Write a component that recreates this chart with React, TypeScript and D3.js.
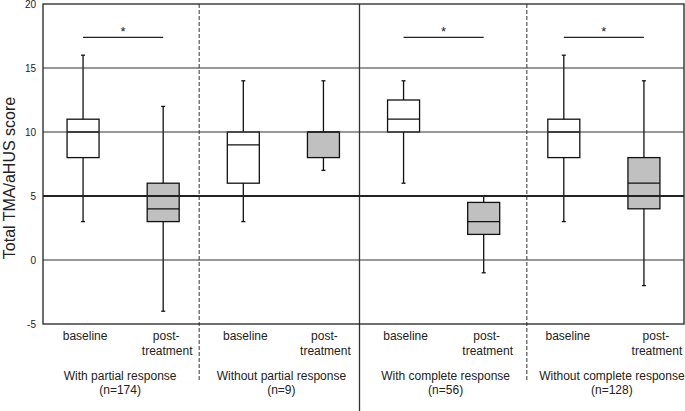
import { useEffect, useRef } from "react";
import * as d3 from "d3";

// groups, each with a baseline and a post-treatment box
const groupNames = [
  "With partial response",
  "Without partial response",
  "With complete response",
  "Without complete response",
];
const groupNs = ["(n=174)", "(n=9)", "(n=56)", "(n=128)"];
const conditions = ["baseline", "post-treatment"];

// box stats per box, in order g1-base, g1-post, g2-base, ...
const whiskerLow = [3, -4, 3, 7, 6, -1, 3, -2];
const q1 = [8, 3, 6, 8, 10, 2, 8, 4];
const median = [10, 4, 9, 10, 11, 3, 10, 6];
const q3 = [11, 6, 10, 10, 12.5, 4.5, 11, 8];
const whiskerHigh = [16, 12, 14, 14, 14, 5, 16, 14];

// groups with a significant difference
const significant = [true, false, true, true];
const sigLevel = 17.4;

const yTicks = [20, 15, 10, 5, 0, -5];
const gridLines = [0, 10, 15];

const W = 685;
const H = 411;
const font = "Liberation Sans, Arial, sans-serif";

const App = () => {
  const svgRef = useRef<SVGSVGElement | null>(null);

  useEffect(() => {
    const svg = d3.select(svgRef.current);
    svg.selectAll("*").remove();

    const left = 43;
    const right = 684;
    const top = 4;
    const bottom = 324;

    const boxes = d3.range(8).map((i) => ({
      key: `b${i}`,
      group: Math.floor(i / 2),
      cond: i % 2,
      lo: whiskerLow[i],
      q1: q1[i],
      med: median[i],
      q3: q3[i],
      hi: whiskerHigh[i],
    }));

    const x = d3
      .scaleBand()
      .domain(boxes.map((b) => b.key))
      .range([left, right]);
    const y = d3.scaleLinear().domain([-5, 20]).range([bottom, top]);
    const cx = (k: string) => (x(k) as number) + x.bandwidth() / 2;
    const boxW = 32;
    const capW = 4;

    // separators (the original ones sit a few px off the band edges)
    const sepX = [2, 4, 6].map((i) => x(`b${i}`) as number);
    const sepOffset = [-4, -4, 3];
    sepX.forEach((sx, i) => {
      const solid = i === 1;
      svg
        .append("line")
        .attr("x1", sx + sepOffset[i])
        .attr("x2", sx + sepOffset[i])
        .attr("y1", top)
        .attr("y2", solid ? H : 381)
        .attr("stroke", solid ? "#333" : "#777")
        .attr("stroke-width", solid ? 1.3 : 1.5)
        .attr("stroke-dasharray", solid ? null : "4,2");
    });

    // boxes
    const g = svg.append("g");
    boxes.forEach((b) => {
      const c = cx(b.key);
      g.append("line")
        .attr("x1", c)
        .attr("x2", c)
        .attr("y1", y(b.hi))
        .attr("y2", y(b.lo))
        .attr("stroke", "#111")
        .attr("stroke-width", 1.3);
      [b.hi, b.lo].forEach((v) =>
        g
          .append("line")
          .attr("x1", c - capW / 2)
          .attr("x2", c + capW / 2)
          .attr("y1", y(v))
          .attr("y2", y(v))
          .attr("stroke", "#111")
          .attr("stroke-width", 1.3)
      );
      g.append("rect")
        .attr("x", c - boxW / 2)
        .attr("width", boxW)
        .attr("y", y(b.q3))
        .attr("height", y(b.q1) - y(b.q3))
        .attr("fill", b.cond === 0 ? "#fff" : "#c0c0c0")
        .attr("stroke", "#111")
        .attr("stroke-width", 1.3);
      g.append("line")
        .attr("x1", c - boxW / 2)
        .attr("x2", c + boxW / 2)
        .attr("y1", y(b.med))
        .attr("y2", y(b.med))
        .attr("stroke", "#111")
        .attr("stroke-width", 1.3);
    });

    // gridlines on top
    gridLines.forEach((v) =>
      svg
        .append("line")
        .attr("x1", left)
        .attr("x2", right)
        .attr("y1", y(v))
        .attr("y2", y(v))
        .attr("stroke", "#333")
        .attr("stroke-width", 1.1)
    );
    svg
      .append("line")
      .attr("x1", left)
      .attr("x2", right)
      .attr("y1", y(5))
      .attr("y2", y(5))
      .attr("stroke", "#222")
      .attr("stroke-width", 2.2);

    // frame
    svg
      .append("rect")
      .attr("x", left)
      .attr("y", top)
      .attr("width", right - left)
      .attr("height", bottom - top)
      .attr("fill", "none")
      .attr("stroke", "#222")
      .attr("stroke-width", 1.3);

    // y ticks
    yTicks.forEach((t) =>
      svg
        .append("text")
        .attr("x", 36)
        .attr("y", y(t) + 3.5)
        .attr("text-anchor", "end")
        .attr("font-family", font)
        .attr("font-size", 10)
        .attr("fill", "#222")
        .text(t)
    );

    svg
      .append("text")
      .attr("transform", `translate(14.5,${(top + bottom) / 2 + 14}) rotate(-90)`)
      .attr("text-anchor", "middle")
      .attr("font-family", font)
      .attr("font-size", 16)
      .attr("fill", "#222")
      .text("Total TMA/aHUS score");

    // significance bars
    significant.forEach((s, gi) => {
      if (!s) return;
      const a = cx(`b${gi * 2}`);
      const b = cx(`b${gi * 2 + 1}`);
      svg
        .append("line")
        .attr("x1", a)
        .attr("x2", b)
        .attr("y1", y(sigLevel))
        .attr("y2", y(sigLevel))
        .attr("stroke", "#222")
        .attr("stroke-width", 1.3);
      svg
        .append("text")
        .attr("x", (a + b) / 2)
        .attr("y", y(sigLevel) - 1)
        .attr("text-anchor", "middle")
        .attr("font-family", font)
        .attr("font-size", 13)
        .attr("fill", "#222")
        .text("*");
    });

    // x labels
    const labelShift = [2, 2, 2, 0, 2, 2, 4, 11];
    boxes.forEach((b, i) => {
      const c = cx(b.key) + labelShift[i];
      const t = svg
        .append("text")
        .attr("text-anchor", "middle")
        .attr("font-family", font)
        .attr("font-size", 12)
        .attr("fill", "#222");
      if (b.cond === 0) {
        t.append("tspan").attr("x", c).attr("y", 340).text(conditions[0]);
      } else {
        t.append("tspan").attr("x", c + 1).attr("y", 340).text("post-");
        t.append("tspan").attr("x", c + 2).attr("y", 355).text("treatment");
      }
    });

    const groupShift = [-3, -2, 2, 8];
    groupNames.forEach((name, gi) => {
      const c =
        ((x(`b${gi * 2}`) as number) +
          (x(`b${gi * 2 + 1}`) as number) +
          x.bandwidth()) /
          2 +
        groupShift[gi];
      const t = svg
        .append("text")
        .attr("text-anchor", "middle")
        .attr("font-family", font)
        .attr("font-size", 12)
        .attr("fill", "#222");
      t.append("tspan").attr("x", c).attr("y", 380).text(name);
      t.append("tspan").attr("x", c).attr("y", 394).text(groupNs[gi]);
    });
  }, []);

  return (
    <svg
      ref={svgRef}
      width={W}
      height={H}
      style={{ position: "absolute", left: 0, top: 0, background: "#fff" }}
    />
  );
};

export default App;
